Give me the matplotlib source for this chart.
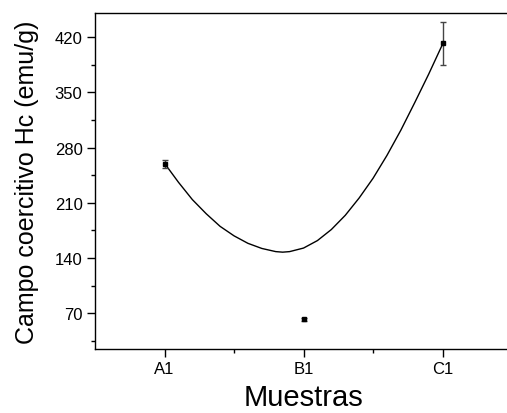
import numpy as np
import matplotlib.pyplot as plt

plt.rcParams['font.family'] = ['Liberation Sans', 'DejaVu Sans']

# muestras y campo coercitivo
samples = ['A1', 'B1', 'C1']
hc = [259, 62, 412]
hc_err = [5, 2, 27]

# curva suave
curve_x = [1.0, 1.1, 1.2, 1.3, 1.4, 1.5, 1.6, 1.7, 1.8, 1.85, 1.9, 2.0,
           2.1, 2.2, 2.3, 2.4, 2.5, 2.6, 2.7, 2.8, 2.9, 3.0]
curve_y = [260, 236, 214, 196, 180, 168, 158.5, 152, 148, 147.3, 148, 152.5,
           162, 176, 194, 216, 241, 270, 302, 337, 373, 411]

fig = plt.figure(figsize=(5.07, 4.14), dpi=100)
ax = fig.add_axes([0.1874, 0.1546, 1.01 - 0.1874, 0.966 - 0.1546])

pos = np.arange(1, len(samples) + 1)
ax.plot(curve_x, curve_y, color='black', lw=1.0)
ax.errorbar(pos, hc, yerr=hc_err, fmt='s', color='black', ms=2.5,
            ecolor='#444444', elinewidth=1.0, capsize=2.5, capthick=1.0)

ax.set_xlim(0.5, 3.5)
ax.set_ylim(24.5, 450.5)
ax.set_xticks(pos)
ax.set_xticklabels(samples)
ax.set_xticks([1.5, 2.5], minor=True)
ax.set_yticks([70, 140, 210, 280, 350, 420])
ax.set_yticks([35, 105, 175, 245, 315, 385], minor=True)

ax.tick_params(which='major', direction='out', length=5.5, width=1, labelsize=12)
ax.tick_params(which='minor', direction='out', length=3, width=1)
ax.spines['right'].set_visible(False)
for s in ['left', 'bottom', 'top']:
    ax.spines[s].set_linewidth(1.0)

ax.set_xlabel('Muestras', fontsize=21, labelpad=5)
ax.set_ylabel('Campo coercitivo Hc (emu/g)', fontsize=18, labelpad=11)

fig.savefig('out.png', dpi=100)
